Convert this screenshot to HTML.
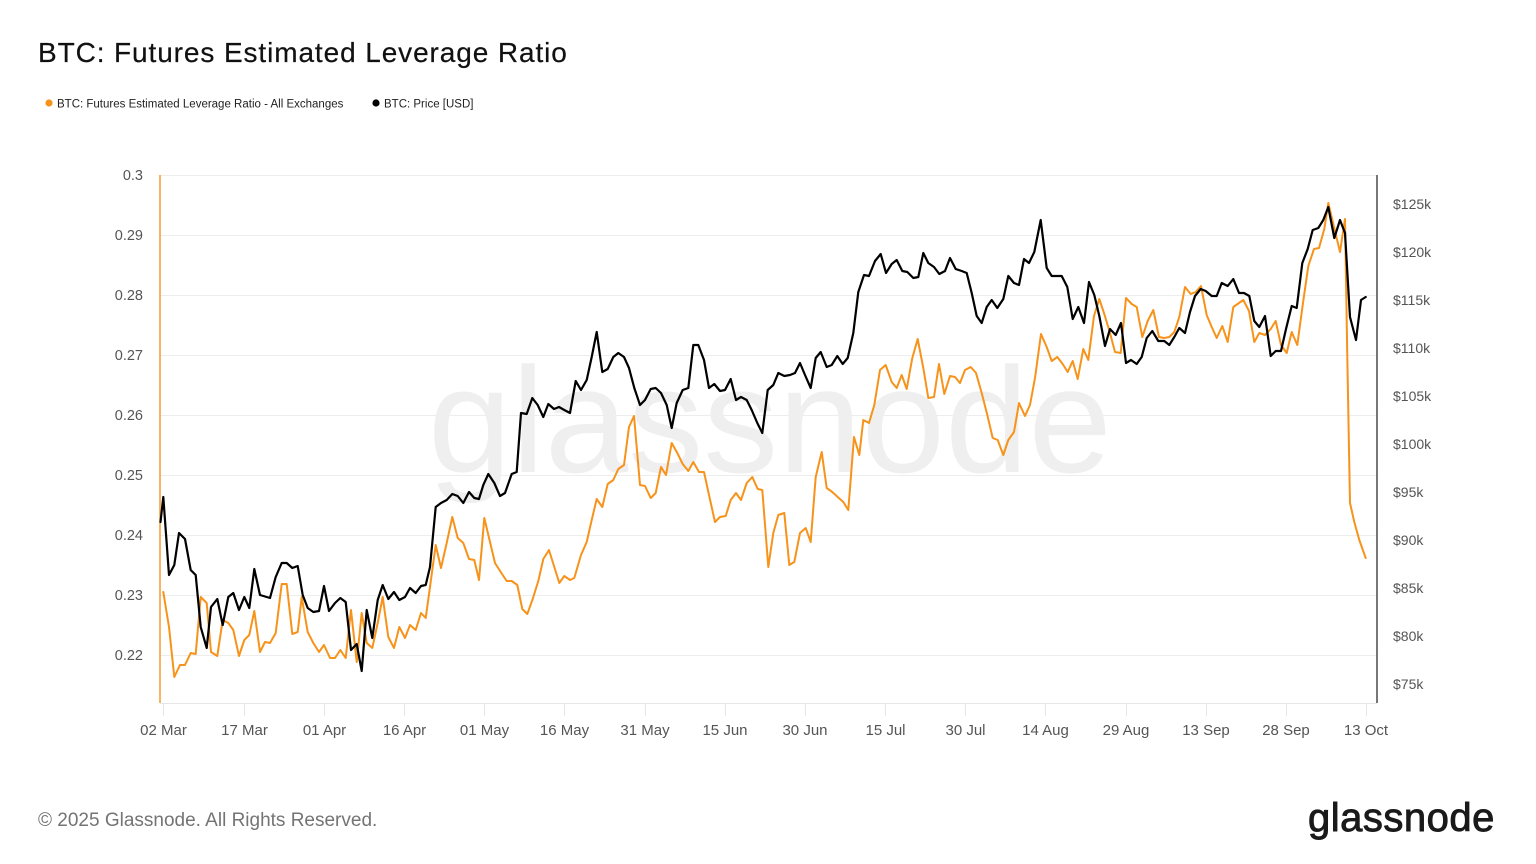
<!DOCTYPE html>
<html>
<head>
<meta charset="utf-8">
<style>
  html,body{margin:0;padding:0;background:#ffffff;}
  body{width:1536px;height:864px;overflow:hidden;}
  svg{display:block;}
  text{font-family:"Liberation Sans",Arial,sans-serif;}
</style>
</head>
<body>
<svg width="1536" height="864" viewBox="0 0 1536 864" xmlns="http://www.w3.org/2000/svg">
  <rect width="1536" height="864" fill="#ffffff"/>

  <!-- Title -->
  <text x="38" y="62" font-size="28" fill="#111" letter-spacing="0.9" stroke="#111" stroke-width="0.2">BTC: Futures Estimated Leverage Ratio</text>

  <!-- Legend -->
  <circle cx="49" cy="103" r="3.6" fill="#f7931a"/>
  <text x="57" y="107.5" font-size="11.5" fill="#222">BTC: Futures Estimated Leverage Ratio - All Exchanges</text>
  <circle cx="376" cy="103" r="3.6" fill="#000"/>
  <text x="384" y="107.5" font-size="11.5" fill="#222">BTC: Price [USD]</text>

  <!-- Gridlines -->
  <g stroke="#ededed" stroke-width="1">
    <line x1="160" y1="175.5" x2="1377" y2="175.5"/>
    <line x1="160" y1="235.5" x2="1377" y2="235.5"/>
    <line x1="160" y1="295.5" x2="1377" y2="295.5"/>
    <line x1="160" y1="355.5" x2="1377" y2="355.5"/>
    <line x1="160" y1="415.5" x2="1377" y2="415.5"/>
    <line x1="160" y1="475.5" x2="1377" y2="475.5"/>
    <line x1="160" y1="535.5" x2="1377" y2="535.5"/>
    <line x1="160" y1="595.5" x2="1377" y2="595.5"/>
    <line x1="160" y1="655.5" x2="1377" y2="655.5"/>
  </g>
  <!-- x baseline and ticks -->
  <line x1="160" y1="703.5" x2="1377" y2="703.5" stroke="#e6e6e6" stroke-width="1"/>
  <g stroke="#e6e6e6" stroke-width="1">
    <line x1="163.5" y1="703" x2="163.5" y2="716"/>
    <line x1="244.5" y1="703" x2="244.5" y2="716"/>
    <line x1="324.5" y1="703" x2="324.5" y2="716"/>
    <line x1="404.5" y1="703" x2="404.5" y2="716"/>
    <line x1="484.5" y1="703" x2="484.5" y2="716"/>
    <line x1="564.5" y1="703" x2="564.5" y2="716"/>
    <line x1="645.5" y1="703" x2="645.5" y2="716"/>
    <line x1="725.5" y1="703" x2="725.5" y2="716"/>
    <line x1="805.5" y1="703" x2="805.5" y2="716"/>
    <line x1="885.5" y1="703" x2="885.5" y2="716"/>
    <line x1="965.5" y1="703" x2="965.5" y2="716"/>
    <line x1="1045.5" y1="703" x2="1045.5" y2="716"/>
    <line x1="1126.5" y1="703" x2="1126.5" y2="716"/>
    <line x1="1206.5" y1="703" x2="1206.5" y2="716"/>
    <line x1="1286.5" y1="703" x2="1286.5" y2="716"/>
    <line x1="1366.5" y1="703" x2="1366.5" y2="716"/>
  </g>

  <!-- Watermark -->
  <text x="428" y="472" font-size="150" fill="#efefef" letter-spacing="0">glassnode</text>

  <!-- Axes lines -->
  <line x1="160" y1="175" x2="160" y2="703" stroke="#f7a23a" stroke-width="1.6"/>
  <line x1="1377" y1="175" x2="1377" y2="703" stroke="#555" stroke-width="1.6"/>

  <!-- Left axis labels -->
  <g font-size="14.5" fill="#555" text-anchor="end">
    <text x="143" y="180">0.3</text>
    <text x="143" y="240">0.29</text>
    <text x="143" y="300">0.28</text>
    <text x="143" y="360">0.27</text>
    <text x="143" y="420">0.26</text>
    <text x="143" y="480">0.25</text>
    <text x="143" y="540">0.24</text>
    <text x="143" y="600">0.23</text>
    <text x="143" y="660">0.22</text>
  </g>

  <!-- Right axis labels -->
  <g font-size="14" fill="#555">
    <text x="1393" y="209">$125k</text>
    <text x="1393" y="257">$120k</text>
    <text x="1393" y="305">$115k</text>
    <text x="1393" y="353">$110k</text>
    <text x="1393" y="401">$105k</text>
    <text x="1393" y="449">$100k</text>
    <text x="1393" y="497">$95k</text>
    <text x="1393" y="545">$90k</text>
    <text x="1393" y="593">$85k</text>
    <text x="1393" y="641">$80k</text>
    <text x="1393" y="689">$75k</text>
  </g>

  <!-- X axis labels -->
  <g font-size="15" fill="#555" text-anchor="middle">
    <text x="163.5" y="735">02 Mar</text>
    <text x="244.5" y="735">17 Mar</text>
    <text x="324.5" y="735">01 Apr</text>
    <text x="404.5" y="735">16 Apr</text>
    <text x="484.5" y="735">01 May</text>
    <text x="564.5" y="735">16 May</text>
    <text x="645" y="735">31 May</text>
    <text x="725" y="735">15 Jun</text>
    <text x="805" y="735">30 Jun</text>
    <text x="885.5" y="735">15 Jul</text>
    <text x="965.5" y="735">30 Jul</text>
    <text x="1045.5" y="735">14 Aug</text>
    <text x="1126" y="735">29 Aug</text>
    <text x="1206" y="735">13 Sep</text>
    <text x="1286" y="735">28 Sep</text>
    <text x="1366" y="735">13 Oct</text>
  </g>

  <!-- Orange series: Leverage Ratio -->
  <polyline fill="none" stroke="#f7931a" stroke-width="2" stroke-linejoin="round" stroke-linecap="round" points="
163.3,592 169,627 174.3,677 180,665 185,665 190.7,653 195.7,654 200.7,597 206.7,603 211,652 217.3,656 222.7,620 228.3,623 233.3,630 239,656 244.3,640 249.3,635 254.3,611 260,652 265,642 270,643 275.7,633 281.7,584 286.7,584 292.3,634 297.7,632 301.7,597 307.7,632 313.3,643 319,652 324,645 330,658 335,658 340.3,650 345.7,658 351,610 356.7,662 361.7,613 366.7,643 372.3,648 377.7,623 382.7,597 388.3,637 394,648 399.3,627 405,638 410,625 415.7,630 421,613 425.7,618 430,587 435.7,545 441,568 446.7,543 452.3,517 457.7,538 463.3,543 469,559 474.3,560 479,580 484.3,518 490,542 495,563 500.7,572 506.7,581 511.7,581 517.3,585 522.3,609 527.3,614 532.7,599 538.3,581 543.3,559 549,550 554.3,567 559.3,583 564.3,576 570,580 574.3,578 581,555 586.7,542 591.7,520 596.7,499 602.3,507 607.7,484 613.3,480 618.3,469 624,465 629,427 634,416 640,485 645,486 650.7,498 655.7,493 661,467 666,475 671.7,443 677.3,453 682.7,464 688.3,471 693.3,462 699,472 704,472 709,495 715,522 720,517 725.7,516 730.7,500 736,493 741,500 746.7,483 752.3,477 757.7,489 762.3,490 768.3,567 773.3,533 778.3,515 784.3,513 789.3,565 794.3,562 800,533 805.7,528 810.7,542 815.7,477 821.7,452 826.7,488 832.3,492 837.7,497 843.3,502 848.3,510 854,437 859.3,455 863.3,420 869,423 874.3,405 880,370 885.7,365 891.7,382 896.7,388 901.7,375 906.7,389 912.3,358 917.7,339 923.3,368 928.3,398 934,397 939,364 944.3,394 950,376 955,377 960,383 965,370 970.7,367 976,373 981.7,393 987.3,415 992.7,438 997.7,440 1003.3,455 1008.3,440 1014,432 1019,403 1025,416 1030,405 1035,378 1041,334 1046.7,347 1051.7,361 1057.3,357 1062.7,364 1067.7,372 1072.7,361 1077.7,379 1083.3,349 1088.3,360 1094,316 1099.3,299 1104.3,314 1110,333 1115,352 1120.7,353 1126,298 1131.7,304 1136.7,307 1142.3,337 1147.7,321 1153.3,310 1159,337 1164.3,338 1169.3,337 1174.3,332 1179.3,317 1185,287 1190.7,294 1195.7,292 1201,286 1206.7,315 1211.7,327 1216.7,338 1222.3,326 1227.7,342 1233.3,307 1239,303 1243.3,300 1249,311 1254.3,342 1259.3,333 1265,335 1270.7,329 1275.7,321 1281,345 1286.7,353 1291.7,332 1297.3,345 1302.7,305 1308.3,266 1314,249 1319,248 1324.3,229 1328.3,203 1334,227 1340,252 1345,219 1347.3,357 1350,503 1354.3,522 1359.3,540 1365.7,558"/>

  <!-- Black series: Price -->
  <polyline fill="none" stroke="#000000" stroke-width="2.2" stroke-linejoin="round" stroke-linecap="round" points="
160.5,522 163.3,497 169,575 174.3,565 179,533 185,539 190.7,570 195.7,575 200.7,627 206.7,648 211,607 217.3,599 222.7,625 228.3,597 233.3,593 239,610 244.3,597 249.3,608 254.3,569 260,595 270,598 275.7,577 281.7,563 286.7,563 292.3,568 297.7,566 302.7,595 307.7,608 313.3,612 319,611 324,586 329,611 335,603 340.3,598 345.7,602 351,650 356.7,644 361.7,671 366.7,610 372.3,638 377.7,600 382.7,585 388.3,599 394,592 399.3,600 405,597 410,588 415.7,593 421,586 425.7,585 430,567 435.7,507 441,503 446.7,500 452.3,494 457.7,496 463.3,503 469,492 474.3,498 479,499 483.3,485 488.3,474 494.3,483 500,496 505,493 511.7,474 516.7,472 521,413 526.7,414 532.3,398 537.7,405 543.3,417 548.3,404 554,409 559,407 564.3,410 570,413 575.7,381 581,390 586.7,380 591.7,357 596.7,332 602.3,372 607.7,369 613.3,357 618.3,353 624,357 629,368 634.3,388 640,405 645,400 650.7,389 655.7,388 661,393 666.7,405 671.7,428 676.7,403 682.7,390 688.3,388 693.3,345 698.3,345 704,360 709,388 714.3,384 720,391 725,390 730.7,379 736,400 741,397 746.7,400 751.7,410 757.3,423 762.3,433 767.7,390 773.3,385 778.3,373 784.3,376 790,375 795,373 800,363 805,375 810.7,388 815.7,358 820.7,352 826.7,367 831.7,365 837.3,356 842.7,364 847.7,358 853.3,333 858.3,292 864,275 869,276 875,261 880.7,254 886,273 891.7,264 896.7,260 902.3,271 907.3,272 913.3,278 918.3,277 923.3,253 928.3,263 934,267 939.3,274 945,271 950,258 955.7,269 961.7,271 966.7,273 971.7,293 976.7,316 981.7,323 986.7,307 991.7,300 997.3,308 1003.3,299 1008.3,276 1014,283 1019,285 1024,259 1029,263 1034.3,252 1040.7,220 1046.7,268 1051.7,276 1056.7,276 1061.7,276 1067.3,287 1072.7,319 1078.3,307 1084,323 1089,282 1094.3,295 1099.3,316 1105,346 1110,329 1115.7,335 1121,323 1126,363 1131,360 1136.7,364 1141.7,357 1146.7,338 1152.3,331 1158.3,341 1164.3,341 1169.3,345 1174.3,337 1179.3,328 1185,333 1190,312 1195,296 1200.7,289 1205.7,291 1211.7,296 1216.7,296 1221.7,283 1227.7,286 1233.3,279 1239,293 1244,293 1249.3,296 1254.3,321 1259.3,327 1265,316 1270.7,356 1275.7,351 1281,351 1286,329 1291.7,306 1296.7,308 1302.3,263 1307.7,249 1312.7,230 1318.3,228 1323.3,220 1328.3,207 1334.3,238 1340,220 1345,233 1350,317 1356,340 1361,300 1365.7,297"/>

  <!-- Footer -->
  <text x="38" y="826" font-size="19" fill="#747474">© 2025 Glassnode. All Rights Reserved.</text>
  <text x="1308" y="831" font-size="40" fill="#1a1a1a" stroke="#1a1a1a" stroke-width="0.9" letter-spacing="0.5">glassnode</text>
</svg>
</body>
</html>
